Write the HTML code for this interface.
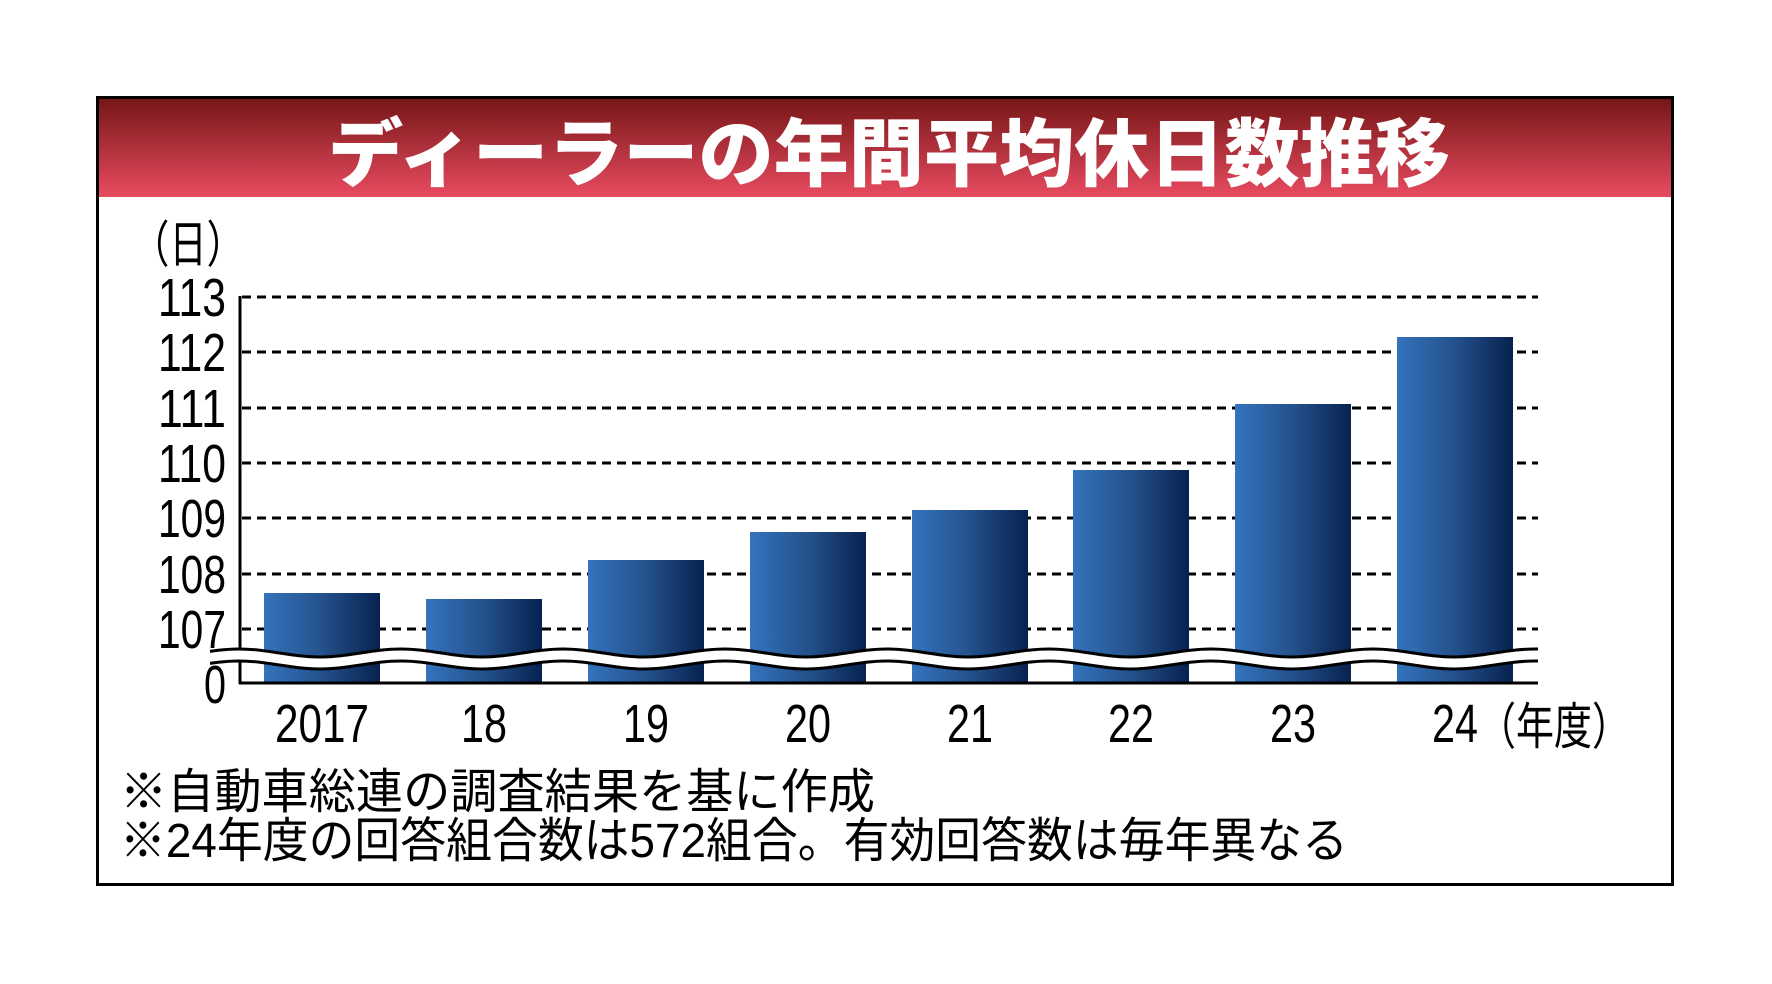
<!DOCTYPE html>
<html><head><meta charset="utf-8"><style>
html,body{margin:0;padding:0;background:#fff;}
svg{display:block;}
</style></head><body>
<svg width="1772" height="984" viewBox="0 0 1772 984" xmlns="http://www.w3.org/2000/svg">
<defs>
<linearGradient id="hd" x1="0" y1="0" x2="0" y2="1">
<stop offset="0" stop-color="#741516"/><stop offset="1" stop-color="#e84b60"/>
</linearGradient>
<linearGradient id="bg" x1="0" y1="0" x2="1" y2="0">
<stop offset="0" stop-color="#3473bd"/><stop offset="0.5" stop-color="#24518c"/><stop offset="1" stop-color="#07224f"/>
</linearGradient>
<clipPath id="wc"><rect x="210" y="620" width="1328" height="60"/></clipPath>
<path id="wv" d="M158 663 C187 663 210 655 239 655 S291 663 320 663 S372 655 401 655 S453 663 482 663 S534 655 563 655 S615 663 644 663 S696 655 725 655 S777 663 806 663 S858 655 887 655 S939 663 968 663 S1020 655 1049 655 S1101 663 1130 663 S1182 655 1211 655 S1263 663 1292 663 S1344 655 1373 655 S1425 663 1454 663 S1506 655 1535 655 S1587 663 1616 663" fill="none"/>
</defs>
<rect x="97" y="97" width="1576" height="100" fill="url(#hd)"/>
<rect x="97.5" y="97.5" width="1575" height="787" fill="none" stroke="#000" stroke-width="3"/>
<text x="328" y="180" textLength="1122" lengthAdjust="spacingAndGlyphs" font-family="'Noto Sans CJK JP',sans-serif" font-weight="900" font-size="74" fill="#fff">ディーラーの年間平均休日数推移</text>

<text x="132" y="262" textLength="112" lengthAdjust="spacingAndGlyphs" font-family="'Liberation Sans','Noto Sans CJK JP',sans-serif" font-size="50" fill="#000">（日）</text>

<g stroke="#000" stroke-width="3" stroke-dasharray="9,6">
<line x1="242" y1="297" x2="1538" y2="297"/>
<line x1="242" y1="352" x2="1538" y2="352"/>
<line x1="242" y1="408" x2="1538" y2="408"/>
<line x1="242" y1="463" x2="1538" y2="463"/>
<line x1="242" y1="518" x2="1538" y2="518"/>
<line x1="242" y1="574" x2="1538" y2="574"/>
<line x1="242" y1="629" x2="1538" y2="629"/>
</g>
<g font-family="'Liberation Sans',sans-serif" font-size="54" fill="#000">
<text x="158" y="316" textLength="68" lengthAdjust="spacingAndGlyphs">113</text>
<text x="158" y="371" textLength="68" lengthAdjust="spacingAndGlyphs">112</text>
<text x="158" y="427" textLength="68" lengthAdjust="spacingAndGlyphs">111</text>
<text x="158" y="482" textLength="68" lengthAdjust="spacingAndGlyphs">110</text>
<text x="158" y="537" textLength="68" lengthAdjust="spacingAndGlyphs">109</text>
<text x="158" y="593" textLength="68" lengthAdjust="spacingAndGlyphs">108</text>
<text x="158" y="648" textLength="68" lengthAdjust="spacingAndGlyphs">107</text>
<text x="204" y="703" textLength="22" lengthAdjust="spacingAndGlyphs">0</text>
</g>
<g fill="url(#bg)">
<rect x="264" y="593" width="116" height="90"/>
<rect x="426" y="599" width="116" height="84"/>
<rect x="588" y="560" width="116" height="123"/>
<rect x="750" y="532" width="116" height="151"/>
<rect x="912" y="510" width="116" height="173"/>
<rect x="1073" y="470" width="116" height="213"/>
<rect x="1235" y="404" width="116" height="279"/>
<rect x="1397" y="337" width="116" height="346"/>
</g>
<line x1="240" y1="296" x2="240" y2="684" stroke="#000" stroke-width="3"/>
<line x1="239" y1="683" x2="1538" y2="683" stroke="#000" stroke-width="3"/>
<g clip-path="url(#wc)" fill="none">
<use href="#wv" stroke="#fff" stroke-width="12"/>
<use href="#wv" transform="translate(0,-6)" stroke="#000" stroke-width="3"/>
<use href="#wv" transform="translate(0,6)" stroke="#000" stroke-width="3"/>
</g>
<g font-family="'Liberation Sans',sans-serif" font-size="54" fill="#000">
<text x="275" y="742" textLength="94" lengthAdjust="spacingAndGlyphs">2017</text>
<text x="461" y="742" textLength="46" lengthAdjust="spacingAndGlyphs">18</text>
<text x="623" y="742" textLength="46" lengthAdjust="spacingAndGlyphs">19</text>
<text x="785" y="742" textLength="46" lengthAdjust="spacingAndGlyphs">20</text>
<text x="947" y="742" textLength="46" lengthAdjust="spacingAndGlyphs">21</text>
<text x="1108" y="742" textLength="46" lengthAdjust="spacingAndGlyphs">22</text>
<text x="1270" y="742" textLength="46" lengthAdjust="spacingAndGlyphs">23</text>
<text x="1432" y="742" textLength="46" lengthAdjust="spacingAndGlyphs">24</text>
</g>
<text x="1478" y="744" textLength="152" lengthAdjust="spacingAndGlyphs" font-family="'Liberation Sans','Noto Sans CJK JP',sans-serif" font-size="50" fill="#000">（年度）</text>
<text x="120" y="808" textLength="755" lengthAdjust="spacingAndGlyphs" font-family="'Liberation Sans','Noto Sans CJK JP',sans-serif" font-size="48" fill="#000">※自動車総連の調査結果を基に作成</text>
<text x="120" y="857" textLength="1228" lengthAdjust="spacingAndGlyphs" font-family="'Liberation Sans','Noto Sans CJK JP',sans-serif" font-size="48" fill="#000">※24年度の回答組合数は572組合。有効回答数は毎年異なる</text>
</svg>
</body></html>
